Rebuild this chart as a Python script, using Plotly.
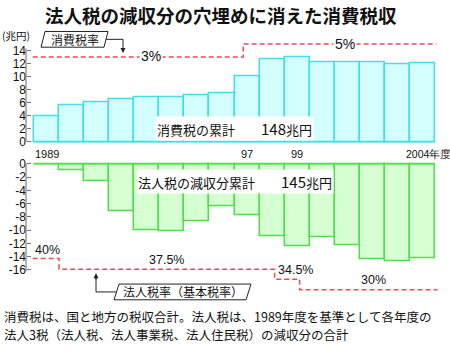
import plotly.graph_objects as go

W, H = 450, 351
def PX(x): return x / W
def PY(y): return 1 - y / H

years = list(range(1989, 2005))
consumption_tax = [3.9, 5.6, 6.1, 6.45, 6.85, 6.85, 7.1, 7.4, 10.1, 12.65, 12.9, 12.25, 12.15, 12.15, 11.9, 12.05]
corp_tax_loss = [0, -0.9, -2.6, -7.1, -9.95, -10.2, -8.7, -6.4, -7.8, -10.9, -12.4, -11.1, -12.3, -14.35, -14.65, -14.25]

top_ticks = [0, 2, 4, 6, 8, 10, 12, 14]
bottom_ticks = [0, -2, -4, -6, -8, -10, -12, -14, -16]
year_labels = ["1989", "97", "99", "2004年度"]
year_label_pos = [1989, 1997, 1999, 2004]

# rate step lines (x in years, y in chart units)
cons_rate_x = [1988.45, 1996.85, 1996.85, 2004.55]
cons_rate_y = [13, 13, 15, 15]
corp_rate_x = [1988.45, 1989.5, 1989.5, 1998.1, 1998.1, 1999.1, 1999.1, 2004.6]
corp_rate_y = [-14.3, -14.3, -15.9, -15.9, -17.4, -17.4, -19.0, -19.0]

FONT = "Noto Sans CJK JP"
NUM = "Liberation Sans"
RED = "#e4505a"

# x mapping: bar edges 1988.5 -> px 34, 2004.5 -> px 435
pxyr = (435 - 34) / 16.0
def xval(px): return 1988.5 + (px - 34) / pxyr
xr = [xval(24), xval(440)]

fig = go.Figure()
fig.add_trace(go.Bar(x=years, y=consumption_tax, width=1.0,
                     marker=dict(color="#d4ffff", line=dict(color="#40e0e4", width=1.5)),
                     xaxis="x", yaxis="y", showlegend=False))
fig.add_trace(go.Bar(x=years, y=corp_tax_loss, width=1.0,
                     marker=dict(color="#d6ffd2", line=dict(color="#4ee04a", width=1.5)),
                     xaxis="x2", yaxis="y2", showlegend=False))
fig.add_trace(go.Scatter(x=cons_rate_x, y=cons_rate_y, mode="lines",
                         line=dict(color=RED, width=1.5, dash="5px,3px"),
                         xaxis="x", yaxis="y", showlegend=False))
fig.add_trace(go.Scatter(x=corp_rate_x, y=corp_rate_y, mode="lines",
                         line=dict(color=RED, width=1.5, dash="5px,3px"),
                         xaxis="x2", yaxis="y2", showlegend=False))

# top axis: 0 at py 143.3, 6.64 px/unit ; bottom: 0 at py 165.7, 6.74 px/unit
t0, ts = 143.3, 6.64
b0, bs = 165.7, 6.74
top_dom = [38, 146]
bot_dom = [160, 305]
yr_top = [-(top_dom[1] - t0) / ts, (t0 - top_dom[0]) / ts]
yr_bot = [-(bot_dom[1] - b0) / bs, (b0 - bot_dom[0]) / bs]

axis_common = dict(showgrid=False, zeroline=False, showline=False, ticks="inside",
                   ticklen=4, tickcolor="#777", tickwidth=1,
                   tickfont=dict(family=NUM, size=12, color="#111"),
                   anchor="free", position=PX(26))
fig.update_layout(
    width=W, height=H, margin=dict(l=0, r=0, t=0, b=0),
    paper_bgcolor="white", plot_bgcolor="rgba(0,0,0,0)",
    bargap=0,
    xaxis=dict(domain=[PX(24), PX(440)], range=xr, visible=False, anchor="y"),
    xaxis2=dict(domain=[PX(24), PX(440)], range=xr, visible=False, anchor="y2", matches="x"),
    yaxis=dict(domain=[PY(top_dom[1]), PY(top_dom[0])], range=yr_top,
               tickvals=top_ticks, ticktext=[str(v) for v in top_ticks], **axis_common),
    yaxis2=dict(domain=[PY(bot_dom[1]), PY(bot_dom[0])], range=yr_bot,
                tickvals=bottom_ticks, ticktext=[str(v) for v in bottom_ticks], **axis_common),
)

shapes = []
# axis lines
shapes.append(dict(type="line", xref="paper", yref="y", x0=PX(26), x1=PX(26), y0=0, y1=14.3,
                   line=dict(color="#666", width=1)))
shapes.append(dict(type="line", xref="paper", yref="y2", x0=PX(26), x1=PX(26), y0=0.1, y1=-16.2,
                   line=dict(color="#666", width=1)))
# zero baselines
shapes.append(dict(type="line", xref="x", yref="y", x0=1988.5, x1=2004.5, y0=0, y1=0,
                   line=dict(color="#40e0e4", width=1.5)))
shapes.append(dict(type="line", xref="x2", yref="y2", x0=1988.5, x1=2004.5, y0=0, y1=0,
                   line=dict(color="#4ee04a", width=1.5)))

def path(pts):
    return "M " + " L ".join(f"{PX(x)},{PY(y)}" for x, y in pts) + " Z"
# 消費税率 box (parallelogram)
shapes.append(dict(type="path", xref="paper", yref="paper",
                   path=path([(41, 47), (45, 31), (108, 31), (104, 47)]),
                   line=dict(color="#222", width=1), fillcolor="white"))
shapes.append(dict(type="path", xref="paper", yref="paper",
                   path=f"M {PX(106)},{PY(39)} L {PX(123)},{PY(39)} L {PX(123)},{PY(50)}",
                   line=dict(color="#222", width=1)))
# 法人税率 box
shapes.append(dict(type="path", xref="paper", yref="paper",
                   path=path([(114, 304), (119, 288), (251, 288), (246, 304)]),
                   line=dict(color="#222", width=1), fillcolor="white"))
shapes.append(dict(type="path", xref="paper", yref="paper",
                   path=f"M {PX(116)},{PY(296)} L {PX(96)},{PY(296)} L {PX(96)},{PY(282)}",
                   line=dict(color="#222", width=1)))
fig.update_layout(shapes=shapes)

ann = []
def A(text, x, y, size=12, xref="paper", yref="paper", xanchor="center", yanchor="middle",
      family=FONT, bg=None, color="#111", **kw):
    d = dict(text=text, x=x, y=y, xref=xref, yref=yref, xanchor=xanchor, yanchor=yanchor,
             showarrow=False, font=dict(family=family, size=size, color=color))
    if bg:
        d["bgcolor"] = bg
    d.update(kw)
    ann.append(d)

A("<b>法人税の減収分の穴埋めに消えた消費税収</b>", PX(221), PY(14), size=18.5)
A("(兆円)", PX(0), PY(35), size=10.5, xanchor="left")
A("消費税率", PX(75), PY(39), size=12)
A("法人税率（基本税率）", PX(183), PY(296), size=12)
A("3%", PX(151), PY(56), size=14, family=NUM, bg="white")
A("5%", PX(345), PY(44), size=14, family=NUM, bg="white")
A("40%", PX(47), PY(253), size=12.5, family=NUM)
A("37.5%", PX(166), PY(263), size=12.5, family=NUM)
A("34.5%", PX(295), PY(274), size=12.5, family=NUM)
A("30%", PX(373), PY(284), size=12.5, family=NUM)
A("消費税の累計　　<span style='font-size:15px'>148</span>兆円", PX(234), PY(130), size=13, bg="white")
A("法人税の減収分累計　　<span style='font-size:15px'>145</span>兆円", PX(235), PY(184), size=13, bg="white")
for lab, yr in zip(year_labels, year_label_pos):
    if lab.startswith("2004"):
        A(lab, xval(404), PY(156), size=10.5, xref="x", xanchor="left", family=NUM)
    else:
        A(lab, yr, PY(156), size=11, xref="x", family=NUM)
A("消費税は、国と地方の税収合計。法人税は、1989年度を基準として各年度の",
  PX(2), PY(320.5), size=12.5, xanchor="left")
A("法人3税（法人税、法人事業税、法人住民税）の減収分の合計",
  PX(2), PY(339.5), size=12.5, xanchor="left")

# arrowheads
ann.append(dict(x=PX(123), y=PY(53), xref="paper", yref="paper", ax=0, ay=-6, text="",
                showarrow=True, arrowhead=2, arrowsize=1, arrowwidth=1, arrowcolor="#222"))
ann.append(dict(x=PX(96), y=PY(277), xref="paper", yref="paper", ax=0, ay=8, text="",
                showarrow=True, arrowhead=2, arrowsize=1, arrowwidth=1, arrowcolor="#222"))
fig.update_layout(annotations=ann)

fig.write_html("out.html")
